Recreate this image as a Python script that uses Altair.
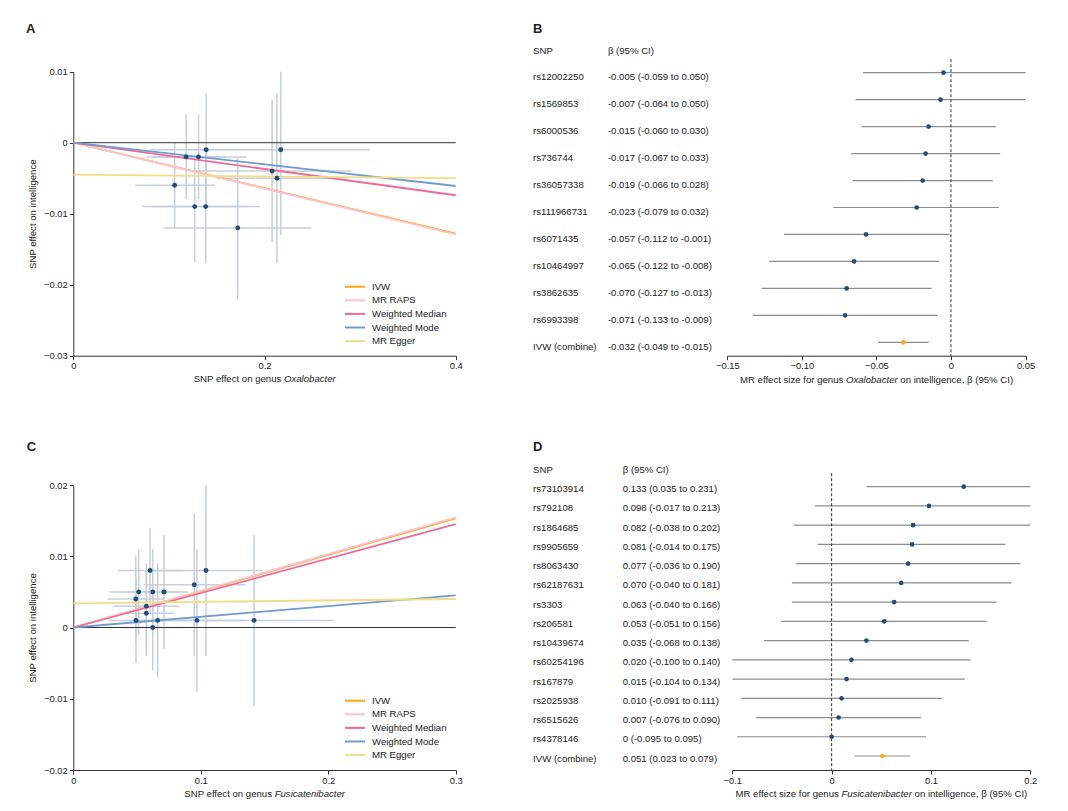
import altair as alt
import pandas as pd

FONT = "Liberation Sans"
TXT = "#222222"
AXC = "#333333"
PT = "#1d4f7c"
ORANGE = "#FFA516"
ERR = "#c6cfdb"
CIC = "#8c8c8c"
W, H = 1050, 792

methods = ["IVW", "MR RAPS", "Weighted Median", "Weighted Mode", "MR Egger"]
method_colors = ["#FFA516", "#FFC2CC", "#EF6A98", "#6E9BD0", "#F1DD86"]

# ---------------- Panel A (Oxalobacter scatter) ----------------
a_snp = ["rs6071435", "rs736744", "rs6000536", "rs1569853", "rs6993398",
         "rs10464997", "rs3862635", "rs36057338", "rs111966731", "rs12002250"]
a_bx = [0.106, 0.118, 0.131, 0.139, 0.127, 0.1385, 0.172, 0.208, 0.213, 0.217]
a_by = [-0.006, -0.002, -0.002, -0.001, -0.009, -0.009, -0.012, -0.004, -0.005, -0.001]
a_bx_lo = [0.065, 0.076, 0.084, 0.080, 0.072, 0.082, 0.095, 0.122, 0.150, 0.124]
a_bx_hi = [0.148, 0.160, 0.181, 0.197, 0.182, 0.195, 0.249, 0.291, 0.276, 0.310]
a_by_lo = [-0.012, -0.008, -0.008, -0.009, -0.0168, -0.017, -0.022, -0.014, -0.017, -0.013]
a_by_hi = [0.000, 0.004, 0.004, 0.007, -0.002, -0.001, -0.002, 0.006, 0.007, 0.010]
a_line_x0 = [0, 0, 0, 0, 0]
a_line_x1 = [0.4, 0.4, 0.4, 0.4, 0.4]
a_line_y0 = [0, 0, 0, 0, -0.0045]
a_line_y1 = [-0.0128, -0.0129, -0.0074, -0.0061, -0.0050]

# ---------------- Panel B (Oxalobacter forest) ----------------
b_snp = ["rs12002250", "rs1569853", "rs6000536", "rs736744", "rs36057338", "rs111966731",
         "rs6071435", "rs10464997", "rs3862635", "rs6993398", "IVW (combine)"]
b_est = [-0.005, -0.007, -0.015, -0.017, -0.019, -0.023, -0.057, -0.065, -0.070, -0.071, -0.032]
b_lo = [-0.059, -0.064, -0.060, -0.067, -0.066, -0.079, -0.112, -0.122, -0.127, -0.133, -0.049]
b_hi = [0.050, 0.050, 0.030, 0.033, 0.028, 0.032, -0.001, -0.008, -0.013, -0.009, -0.015]
b_text = ["-0.005 (-0.059 to 0.050)", "-0.007 (-0.064 to 0.050)", "-0.015 (-0.060 to 0.030)",
          "-0.017 (-0.067 to 0.033)", "-0.019 (-0.066 to 0.028)", "-0.023 (-0.079 to 0.032)",
          "-0.057 (-0.112 to -0.001)", "-0.065 (-0.122 to -0.008)", "-0.070 (-0.127 to -0.013)",
          "-0.071 (-0.133 to -0.009)", "-0.032 (-0.049 to -0.015)"]

# ---------------- Panel C (Fusicatenibacter scatter) ----------------
c_bx = [0.0490, 0.0513, 0.0492, 0.0573, 0.0573, 0.0602, 0.0623, 0.0623, 0.0662, 0.0712,
        0.0949, 0.0970, 0.1041, 0.1418]
c_by = [0.004, 0.005, 0.001, 0.003, 0.002, 0.008, 0.005, 0.000, 0.001, 0.005,
        0.006, 0.001, 0.008, 0.001]
c_bx_lo = [0.027, 0.029, 0.028, 0.031, 0.036, 0.035, 0.042, 0.037, 0.043, 0.052,
           0.0555, 0.060, 0.060, 0.080]
c_bx_hi = [0.071, 0.074, 0.071, 0.083, 0.079, 0.086, 0.083, 0.088, 0.089, 0.090,
           0.135, 0.134, 0.148, 0.204]
c_by_lo = [-0.002, -0.001, -0.005, -0.003, -0.004, 0.002, -0.001, -0.006, -0.007, -0.003,
           -0.004, -0.009, -0.004, -0.011]
c_by_hi = [0.010, 0.011, 0.007, 0.009, 0.008, 0.014, 0.011, 0.006, 0.009, 0.013,
           0.016, 0.011, 0.020, 0.013]
c_line_x0 = [0, 0, 0, 0, 0]
c_line_x1 = [0.3, 0.3, 0.3, 0.3, 0.3]
c_line_y0 = [0, 0, 0, 0, 0.0034]
c_line_y1 = [0.0153, 0.01545, 0.0145, 0.0045, 0.0040]

# ---------------- Panel D (Fusicatenibacter forest) ----------------
d_snp = ["rs73103914", "rs792108", "rs1864685", "rs9905659", "rs8063430", "rs62187631", "rs3303",
         "rs206581", "rs10439674", "rs60254196", "rs167879", "rs2025938", "rs6515626",
         "rs4378146", "IVW (combine)"]
d_est = [0.133, 0.098, 0.082, 0.081, 0.077, 0.070, 0.063, 0.053, 0.035, 0.020, 0.015, 0.010,
         0.007, 0.0, 0.051]
d_lo = [0.035, -0.017, -0.038, -0.014, -0.036, -0.040, -0.040, -0.051, -0.068, -0.100, -0.104,
        -0.091, -0.076, -0.095, 0.023]
d_hi = [0.231, 0.213, 0.202, 0.175, 0.190, 0.181, 0.166, 0.156, 0.138, 0.140, 0.134, 0.111,
        0.090, 0.095, 0.079]
d_text = ["0.133 (0.035 to 0.231)", "0.098 (-0.017 to 0.213)", "0.082 (-0.038 to 0.202)",
          "0.081 (-0.014 to 0.175)", "0.077 (-0.036 to 0.190)", "0.070 (-0.040 to 0.181)",
          "0.063 (-0.040 to 0.166)", "0.053 (-0.051 to 0.156)", "0.035 (-0.068 to 0.138)",
          "0.020 (-0.100 to 0.140)", "0.015 (-0.104 to 0.134)", "0.010 (-0.091 to 0.111)",
          "0.007 (-0.076 to 0.090)", "0 (-0.095 to 0.095)", "0.051 (0.023 to 0.079)"]

panel_letters = ["A", "B", "C", "D"]

# Arial / Liberation Sans advance widths (1/1000 em) for centring mixed-style titles
ARIAL = {' ': 278, 'S': 667, 'N': 722, 'P': 667, 'e': 556, 'f': 278, 'c': 500, 't': 278,
         'o': 556, 'n': 556, 'g': 556, 'u': 556, 's': 500, 'O': 778, 'x': 500, 'a': 556,
         'l': 222, 'b': 556, 'r': 333, 'F': 611, 'i': 222, 'M': 833, 'R': 722, 'z': 500,
         ',': 278, 'β': 575, '(': 333, ')': 333, '9': 556, '5': 556, '%': 889, 'C': 722,
         'I': 278}
TFS = 9.6


def tw(s, size=TFS):
    return sum(ARIAL.get(ch, 556) for ch in s) * size / 1000.0


ONE = pd.DataFrame({"k": [0]})


def text_at(x, y, s, align="left", size=TFS, style="normal", weight="normal", baseline="middle"):
    return alt.Chart(ONE).mark_text(
        align=align, baseline=baseline, font=FONT, fontSize=size, fontStyle=style,
        fontWeight=weight, color=TXT
    ).encode(x=alt.value(x), y=alt.value(y), text=alt.value(s))


def mixed_title(pre, ital, post, center, y):
    wpre, wsp, wit = tw(pre), tw(" "), tw(ital)
    wpost = tw(post) + wsp if post else 0
    total = wpre + wsp + wit + wpost
    start = center - total / 2.0
    ist = start + wpre + wsp
    parts = [text_at(ist - wsp, y, pre, align="right"),
             text_at(ist, y, ital, align="left", style="italic")]
    if post:
        parts.append(text_at(ist + wit + wsp, y, post, align="left"))
    return parts


def scatter_panel(bx, by, xlo, xhi, ylo, yhi, lx0, lx1, ly0, ly1, xdom, ydom, xvals, yvals,
                  left, right, top, bottom, leg_x, leg_y, genus, letter, letter_xy):
    pts = pd.DataFrame(dict(bx=bx, by=by, xlo=xlo, xhi=xhi, ylo=ylo, yhi=yhi))
    rows = []
    for m, x0, x1, y0, y1 in zip(methods, lx0, lx1, ly0, ly1):
        rows.append(dict(method=m, x=x0, y=y0))
        rows.append(dict(method=m, x=x1, y=y1))
    ldf = pd.DataFrame(rows)
    zdf = pd.DataFrame({"x0": [xdom[0]], "x1": [xdom[1]], "y": [0.0]})

    xs = alt.Scale(domain=xdom, range=[left, right], nice=False, zero=False)
    ys = alt.Scale(domain=ydom, range=[bottom, top], nice=False, zero=False)
    xaxis = alt.Axis(values=xvals, format="~g", orient="bottom", offset=bottom - H,
                     title=None, labelFlush=False)
    yaxis = alt.Axis(values=yvals, format="~g", orient="left", offset=-left,
                     title="SNP effect on intelligence", titlePadding=6)

    vbar = alt.Chart(pts).mark_rule(color=ERR, strokeWidth=1.5).encode(
        x=alt.X("bx:Q", scale=xs, axis=None),
        y=alt.Y("ylo:Q", scale=ys, axis=None), y2="yhi:Q")
    hbar = alt.Chart(pts).mark_rule(color=ERR, strokeWidth=1.5).encode(
        x=alt.X("xlo:Q", scale=xs, axis=None), x2="xhi:Q",
        y=alt.Y("by:Q", scale=ys, axis=None))
    zero = alt.Chart(zdf).mark_rule(color=AXC, strokeWidth=1).encode(
        x=alt.X("x0:Q", scale=xs, axis=xaxis), x2="x1:Q",
        y=alt.Y("y:Q", scale=ys, axis=yaxis))
    lines = alt.Chart(ldf).mark_line(strokeWidth=1.8).encode(
        x=alt.X("x:Q", scale=xs, axis=None),
        y=alt.Y("y:Q", scale=ys, axis=None),
        color=alt.Color("method:N", scale=alt.Scale(domain=methods, range=method_colors),
                        legend=alt.Legend(title=None, orient="none", legendX=leg_x, legendY=leg_y,
                                          symbolType="M-2,0H2", symbolSize=100,
                                          symbolStrokeWidth=2, labelFont=FONT,
                                          labelFontSize=TFS, labelColor=TXT,
                                          rowPadding=2.6, labelOffset=11, padding=0)))
    dots = alt.Chart(pts).mark_circle(size=24, color=PT, opacity=1).encode(
        x=alt.X("bx:Q", scale=xs, axis=None), y=alt.Y("by:Q", scale=ys, axis=None))
    title = mixed_title("SNP effect on genus", genus, "", (left + right) / 2.0, bottom + 23.5)
    lab = text_at(letter_xy[0], letter_xy[1], letter, size=13, weight="bold", baseline="alphabetic")
    return [vbar, hbar, zero, lines, dots] + title + [lab]


def forest_panel(snp, est, lo, hi, labels, xdom, xvals, left, right, row0, rowN, axis_y,
                 dash_top, dash_bot, snp_x, beta_x, head_y, dy, genus, letter, letter_xy, lblexpr):
    n = len(snp)
    df = pd.DataFrame(dict(snp=snp, est=est, lo=lo, hi=hi, label=labels,
                           row=list(range(n)),
                           kind=["SNP"] * (n - 1) + ["IVW"]))
    xs = alt.Scale(domain=xdom, range=[left, right], nice=False, zero=False, clamp=True)
    ys = alt.Scale(domain=[0, n - 1], range=[row0, rowN], nice=False, zero=False)
    axkw = dict(values=xvals, orient="bottom", offset=axis_y - H, title=None, labelFlush=False)
    if lblexpr:
        axkw["labelExpr"] = lblexpr
    else:
        axkw["format"] = "~g"
    xaxis = alt.Axis(**axkw)
    ddf = pd.DataFrame({"x": [0.0], "y0": [dash_top], "y1": [dash_bot]})

    ci = alt.Chart(df).mark_rule(color=CIC, strokeWidth=1.2).encode(
        x=alt.X("lo:Q", scale=xs, axis=xaxis), x2="hi:Q",
        y=alt.Y("row:Q", scale=ys, axis=None))
    dash = alt.Chart(ddf).mark_rule(color=AXC, strokeWidth=1, strokeDash=[3, 2]).encode(
        x=alt.X("x:Q", scale=xs, axis=None),
        y=alt.Y("y0:Q", scale=ys, axis=None), y2="y1:Q")
    dots = alt.Chart(df).mark_circle(size=22, opacity=1).encode(
        x=alt.X("est:Q", scale=xs, axis=None),
        y=alt.Y("row:Q", scale=ys, axis=None),
        color=alt.Color("kind:N", scale=alt.Scale(domain=["SNP", "IVW"], range=[PT, ORANGE]),
                        legend=None))
    t_snp = alt.Chart(df).mark_text(align="left", baseline="middle", dy=dy, font=FONT,
                                    fontSize=TFS, color=TXT).encode(
        x=alt.value(snp_x), y=alt.Y("row:Q", scale=ys, axis=None), text="snp:N")
    t_beta = alt.Chart(df).mark_text(align="left", baseline="middle", dy=dy, font=FONT,
                                     fontSize=TFS, color=TXT).encode(
        x=alt.value(beta_x), y=alt.Y("row:Q", scale=ys, axis=None), text="label:N")
    h1 = text_at(snp_x, head_y, "SNP")
    h2 = text_at(beta_x, head_y, "β (95% CI)")
    title = mixed_title("MR effect size for genus", genus, "on intelligence, β (95% CI)",
                        (left + right) / 2.0, axis_y + 24)
    lab = text_at(letter_xy[0], letter_xy[1], letter, size=13, weight="bold", baseline="alphabetic")
    return [ci, dash, dots, t_snp, t_beta, h1, h2] + title + [lab]


panelA = scatter_panel(a_bx, a_by, a_bx_lo, a_bx_hi, a_by_lo, a_by_hi,
                       a_line_x0, a_line_x1, a_line_y0, a_line_y1,
                       [0, 0.4], [-0.03, 0.01], [0, 0.2, 0.4], [0.01, 0, -0.01, -0.02, -0.03],
                       65.3, 447.7, 63.7, 347.7, 341, 272.7, "Oxalobacter",
                       panel_letters[0], (18, 25.3))
panelC = scatter_panel(c_bx, c_by, c_bx_lo, c_bx_hi, c_by_lo, c_by_hi,
                       c_line_x0, c_line_x1, c_line_y0, c_line_y1,
                       [0, 0.3], [-0.02, 0.02], [0, 0.1, 0.2, 0.3], [0.02, 0.01, 0, -0.01, -0.02],
                       65.3, 447.7, 477, 762, 341, 686.7, "Fusicatenibacter",
                       panel_letters[2], (18.7, 442.7))
panelB = forest_panel(b_snp, b_est, b_lo, b_hi, b_text, [-0.15, 0.05],
                      [-0.15, -0.1, -0.05, 0, 0.05], 719.4, 1017.5, 64.7, 334.3, 347.7,
                      -0.5, 10.5, 525.1, 599.9, 42.7, 4.7, "Oxalobacter",
                      panel_letters[1], (525.1, 24.7),
                      "datum.value == 0 ? '0' : format(datum.value, '.2f')")
panelD = forest_panel(d_snp, d_est, d_lo, d_hi, d_text, [-0.1, 0.2],
                      [-0.1, 0, 0.1, 0.2], 724.3, 1022.3, 478.7, 748, 762,
                      -0.7, 14.72, 525.1, 614.7, 462, 2.5, "Fusicatenibacter",
                      panel_letters[3], (525.1, 442.7), None)

chart = alt.layer(*(panelA + panelB + panelC + panelD)).resolve_scale(
    x="independent", y="independent", color="independent"
).properties(
    width=W, height=H, padding=0, autosize=alt.AutoSizeParams(type="none")
).configure_axis(
    labelFont=FONT, labelFontSize=9.4, labelColor=TXT, domainColor=AXC, tickColor=AXC,
    tickSize=4, labelPadding=2, grid=False, titleFont=FONT, titleFontSize=TFS,
    titleFontWeight="normal", titleColor=TXT, domainWidth=1, tickWidth=1
).configure_view(stroke=None)

chart.save("out.html", embed_options={"renderer": "svg", "actions": False})
